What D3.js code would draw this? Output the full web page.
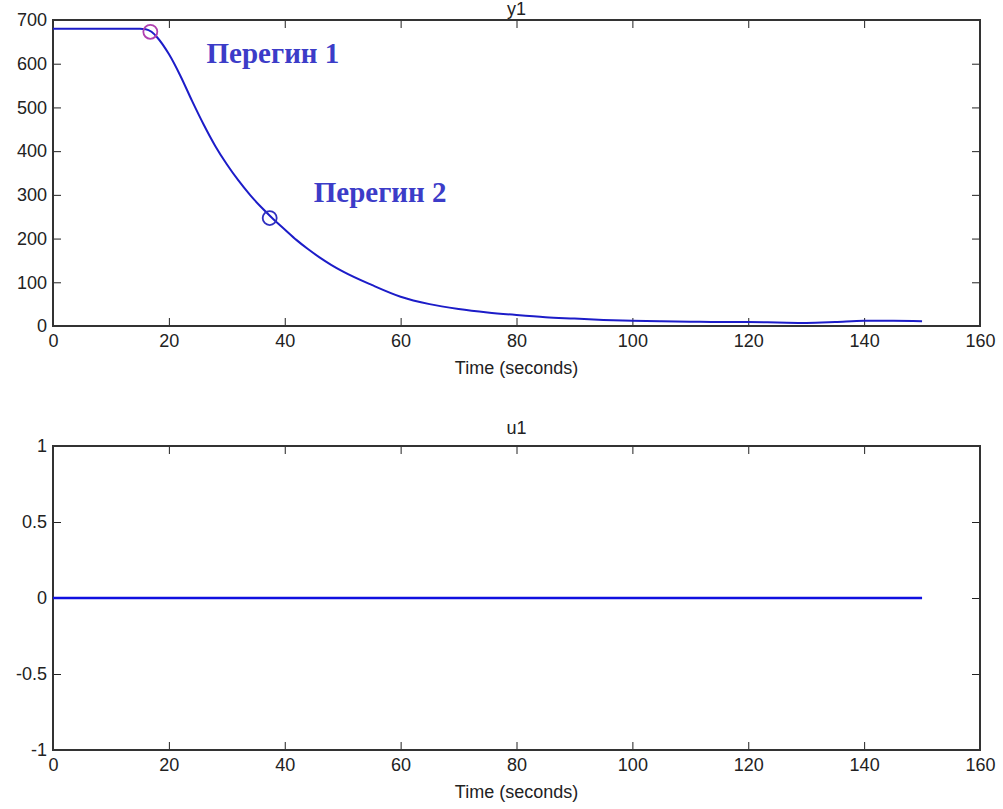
<!DOCTYPE html>
<html><head><meta charset="utf-8">
<script src="https://cdn.jsdelivr.net/npm/d3@7"></script>
<style>body{margin:0;background:#fff}svg{display:block}text{font-family:"Liberation Sans",Arial,sans-serif}</style>
</head><body>
<svg id="c" width="1003" height="809"></svg>
<script>
const time = [0,10,15,16,17,18,20,22,24,26,28,30,32,34,36,38,40,42,44,46,48,50,55,60,65,70,75,80,85,90,95,100,105,110,115,120,125,130,135,140,145,150];
const y1 = [680,680,680,679,673,660,622,572,515,461,412,370,333,300,271,245,221,197,176,157,140,125,94,67,50,39,31,25,20,17,14,12,11,10,9,9,8,7,9,12,12,11];
const uTime = [0,150];
const u1 = [0,0];
const markers = [{t:16.8,v:673,color:"#b040b0"},{t:37.4,v:247,color:"#3030c0"}];
const notes = [{t:26.5,v:601,label:"Перегин 1"},{t:45,v:283,label:"Перегин 2"}];
const xTicks = [0,20,40,60,80,100,120,140,160];
const y1Ticks = [0,100,200,300,400,500,600,700];
const u1Ticks = [-1,-0.5,0,0.5,1];

const svg = d3.select("#c");
const L=53,R=980;
const x = d3.scaleLinear().domain([0,160]).range([L,R]);
const FS=18;

function panel(top,bottom,ydom,yticks,title,titleY,fmt){
  const y = d3.scaleLinear().domain(ydom).range([bottom,top]);
  const g = svg.append("g");
  const tl=8;
  const ax = d3.axisBottom(x).tickValues(xTicks).tickSize(tl).tickFormat(d3.format("d"));
  g.append("g").attr("transform",`translate(0,${bottom})`).call(ax)
    .call(s=>{s.select(".domain").remove();s.selectAll(".tick line").attr("y2",-tl).attr("stroke","#222");
      s.selectAll(".tick text").attr("y",8).attr("dy","0.71em").attr("font-size",FS).attr("fill","#222");});
  g.append("g").attr("transform",`translate(0,${top})`).call(d3.axisTop(x).tickValues(xTicks).tickSize(tl).tickFormat(""))
    .call(s=>{s.select(".domain").remove();s.selectAll(".tick line").attr("y2",tl).attr("stroke","#222");});
  g.append("g").attr("transform",`translate(${L},0)`).call(d3.axisLeft(y).tickValues(yticks).tickSize(tl).tickFormat(fmt))
    .call(s=>{s.select(".domain").remove();s.selectAll(".tick line").attr("x2",tl).attr("stroke","#222");
      s.selectAll(".tick text").attr("x",-6).attr("font-size",FS).attr("fill","#222");});
  g.append("g").attr("transform",`translate(${R},0)`).call(d3.axisRight(y).tickValues(yticks).tickSize(tl).tickFormat(""))
    .call(s=>{s.select(".domain").remove();s.selectAll(".tick line").attr("x2",-tl).attr("stroke","#222");});
  g.append("rect").attr("x",L).attr("y",top).attr("width",R-L).attr("height",bottom-top)
    .attr("fill","none").attr("stroke","#333").attr("stroke-width",2);
  g.append("text").attr("x",(L+R)/2).attr("y",bottom+48).attr("text-anchor","middle").attr("font-size",FS).attr("fill","#222").text("Time (seconds)");
  g.append("text").attr("x",(L+R)/2).attr("y",titleY).attr("text-anchor","middle").attr("font-size",FS).attr("fill","#222").text(title);
  return y;
}

const yTop = panel(20,326,[0,700],y1Ticks,"y1",15,d3.format("d"));
const yBot = panel(446,750,[-1,1],u1Ticks,"u1",434,d=>d===0?"0":String(d));

svg.append("path").datum(time.map((t,i)=>[t,y1[i]]))
  .attr("d",d3.line().x(d=>x(d[0])).y(d=>yTop(d[1])).curve(d3.curveMonotoneX))
  .attr("fill","none").attr("stroke","#1c1cc8").attr("stroke-width",2);
svg.append("path").datum(uTime.map((t,i)=>[t,u1[i]]))
  .attr("d",d3.line().x(d=>x(d[0])).y(d=>yBot(d[1])))
  .attr("fill","none").attr("stroke","#1010e0").attr("stroke-width",2.5);
svg.selectAll("circle.m").data(markers).enter().append("circle")
  .attr("cx",d=>x(d.t)).attr("cy",d=>yTop(d.v)).attr("r",7)
  .attr("fill","none").attr("stroke",d=>d.color).attr("stroke-width",1.8);
svg.selectAll("text.n").data(notes).enter().append("text")
  .attr("x",d=>x(d.t)).attr("y",d=>yTop(d.v))
  .attr("font-weight","bold").attr("font-size",29).attr("fill","#3c3cc8")
  .style("font-family","'Liberation Serif','Times New Roman',serif").text(d=>d.label);
</script>
</body></html>
